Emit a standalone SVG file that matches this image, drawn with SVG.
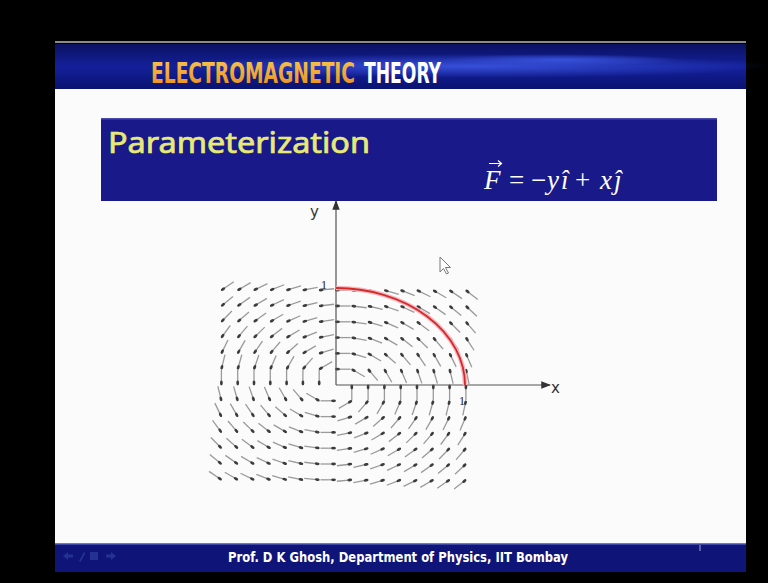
<svg xmlns="http://www.w3.org/2000/svg" width="768" height="583" viewBox="0 0 768 583">
<defs>
<linearGradient id="hdr" x1="0" y1="0" x2="0" y2="1">
<stop offset="0" stop-color="#0a1160"/><stop offset="0.5" stop-color="#14209a"/><stop offset="1" stop-color="#0a1270"/>
</linearGradient>
<radialGradient id="streak" cx="0.5" cy="0.5" r="0.5">
<stop offset="0" stop-color="#3a55e0" stop-opacity="0.9"/><stop offset="1" stop-color="#3a55e0" stop-opacity="0"/>
</radialGradient>
<linearGradient id="gold" x1="0" y1="0" x2="0" y2="1">
<stop offset="0" stop-color="#f8c850"/><stop offset="1" stop-color="#e88a1c"/>
</linearGradient>
<marker id="q" markerUnits="userSpaceOnUse" markerWidth="32" markerHeight="32" viewBox="-16 -16 32 32" refX="0" refY="0" orient="auto" overflow="visible">
<line x1="-15" y1="0" x2="0" y2="0" stroke="#9a9a9a" stroke-width="1.3"/>
<ellipse cx="-2" cy="0" rx="2.4" ry="1.4" fill="#3c3c3c"/>
</marker>
<marker id="ah" markerUnits="userSpaceOnUse" markerWidth="10" markerHeight="10" viewBox="0 -4 8 8" refX="7" refY="0" orient="auto">
<path d="M0,-3L8,0L0,3z" fill="#333"/>
</marker>
<style>
.ax{stroke:#555;stroke-width:1.2;fill:none}
.lbl{font-family:"DejaVu Sans","Liberation Sans",sans-serif;fill:#333}
.one{font-family:"Liberation Serif",serif;font-size:12px;fill:#222}
.q path{fill:none;stroke:none}
.eq{font-family:"Liberation Serif",serif;font-size:27px;fill:#fff}
.hd{font-family:"DejaVu Sans Condensed","Liberation Sans Narrow",sans-serif;font-weight:bold;font-size:20px}
</style>
</defs>
<rect width="768" height="583" fill="#000"/>
<rect x="55" y="41" width="691" height="2" fill="#8a8a8a"/>
<g id="header">
<rect x="55" y="44" width="691" height="45" fill="url(#hdr)"/>
<ellipse cx="470" cy="66" rx="300" ry="12" fill="url(#streak)"/>
<ellipse cx="560" cy="60" rx="120" ry="6" fill="url(#streak)"/>
<text class="hd" transform="translate(151,83) scale(1,1.4)" fill="url(#gold)" textLength="204" lengthAdjust="spacingAndGlyphs">ELECTROMAGNETIC</text>
<text class="hd" transform="translate(364,83) scale(1,1.4)" fill="#fff" textLength="77" lengthAdjust="spacingAndGlyphs">THEORY</text>
</g>
<rect x="55" y="89" width="691" height="455" fill="#fbfbfb"/>
<g id="titlebox">
<rect x="101" y="118" width="616" height="83" fill="#19198a"/>
<rect x="101" y="118" width="616" height="1.5" fill="#4a4ab0"/>
<text x="108" y="153" font-family="'Noto Sans','Open Sans',sans-serif" font-size="29" fill="#e8ea78" stroke="#e8ea78" stroke-width="0.7" textLength="262" lengthAdjust="spacingAndGlyphs">Parameterization</text>
<g id="equation" class="eq">
<text x="484" y="189" font-style="italic">F</text>
<path d="M489,163.5H501M498,160.5L501.5,163.5L498,166.5" fill="none" stroke="#fff" stroke-width="1.2"/>
<text x="509" y="189">=</text>
<text x="531" y="189">−</text>
<text x="547" y="189" font-style="italic">y</text>
<text x="561" y="189" font-style="italic">î</text>
<text x="575" y="189">+</text>
<text x="600" y="189" font-style="italic">x</text>
<text x="614" y="189" font-style="italic">ĵ</text>
</g>
</g>
<g id="field" class="q" marker-start="url(#q)">
<g transform="translate(0,290.2)"><path d="M221.4,0l-10.26,7"/><path d="M237.7,0l-10.26,6"/><path d="M254,0l-10.26,5"/><path d="M270.3,0l-10.26,4"/><path d="M286.6,0l-10.26,3"/><path d="M302.9,0l-10.26,2"/><path d="M319.2,0l-10.26,1"/><path d="M335.5,0l-10.26,0"/><path d="M351.8,0l-10.26,-1"/><path d="M368.1,0l-10.26,-2"/><path d="M384.4,0l-10.26,-3"/><path d="M400.7,0l-10.26,-4"/><path d="M417,0l-10.26,-5"/><path d="M433.3,0l-10.26,-6"/><path d="M449.6,0l-10.26,-7"/><path d="M465.9,0l-10.26,-8"/></g>
<g transform="translate(0,306)"><path d="M221.4,0l-8.55,7"/><path d="M237.7,0l-8.55,6"/><path d="M254,0l-8.55,5"/><path d="M270.3,0l-8.55,4"/><path d="M286.6,0l-8.55,3"/><path d="M302.9,0l-8.55,2"/><path d="M319.2,0l-8.55,1"/><path d="M335.5,0l-8.55,0"/><path d="M351.8,0l-8.55,-1"/><path d="M368.1,0l-8.55,-2"/><path d="M384.4,0l-8.55,-3"/><path d="M400.7,0l-8.55,-4"/><path d="M417,0l-8.55,-5"/><path d="M433.3,0l-8.55,-6"/><path d="M449.6,0l-8.55,-7"/><path d="M465.9,0l-8.55,-8"/></g>
<g transform="translate(0,321.8)"><path d="M221.4,0l-6.84,7"/><path d="M237.7,0l-6.84,6"/><path d="M254,0l-6.84,5"/><path d="M270.3,0l-6.84,4"/><path d="M286.6,0l-6.84,3"/><path d="M302.9,0l-6.84,2"/><path d="M319.2,0l-6.84,1"/><path d="M335.5,0l-6.84,0"/><path d="M351.8,0l-6.84,-1"/><path d="M368.1,0l-6.84,-2"/><path d="M384.4,0l-6.84,-3"/><path d="M400.7,0l-6.84,-4"/><path d="M417,0l-6.84,-5"/><path d="M433.3,0l-6.84,-6"/><path d="M449.6,0l-6.84,-7"/><path d="M465.9,0l-6.84,-8"/></g>
<g transform="translate(0,337.6)"><path d="M221.4,0l-5.13,7"/><path d="M237.7,0l-5.13,6"/><path d="M254,0l-5.13,5"/><path d="M270.3,0l-5.13,4"/><path d="M286.6,0l-5.13,3"/><path d="M302.9,0l-5.13,2"/><path d="M319.2,0l-5.13,1"/><path d="M335.5,0l-5.13,0"/><path d="M351.8,0l-5.13,-1"/><path d="M368.1,0l-5.13,-2"/><path d="M384.4,0l-5.13,-3"/><path d="M400.7,0l-5.13,-4"/><path d="M417,0l-5.13,-5"/><path d="M433.3,0l-5.13,-6"/><path d="M449.6,0l-5.13,-7"/><path d="M465.9,0l-5.13,-8"/></g>
<g transform="translate(0,353.4)"><path d="M221.4,0l-3.42,7"/><path d="M237.7,0l-3.42,6"/><path d="M254,0l-3.42,5"/><path d="M270.3,0l-3.42,4"/><path d="M286.6,0l-3.42,3"/><path d="M302.9,0l-3.42,2"/><path d="M319.2,0l-3.42,1"/><path d="M335.5,0l-3.42,0"/><path d="M351.8,0l-3.42,-1"/><path d="M368.1,0l-3.42,-2"/><path d="M384.4,0l-3.42,-3"/><path d="M400.7,0l-3.42,-4"/><path d="M417,0l-3.42,-5"/><path d="M433.3,0l-3.42,-6"/><path d="M449.6,0l-3.42,-7"/><path d="M465.9,0l-3.42,-8"/></g>
<g transform="translate(0,369.2)"><path d="M221.4,0l-1.71,7"/><path d="M237.7,0l-1.71,6"/><path d="M254,0l-1.71,5"/><path d="M270.3,0l-1.71,4"/><path d="M286.6,0l-1.71,3"/><path d="M302.9,0l-1.71,2"/><path d="M319.2,0l-1.71,1"/><path d="M335.5,0l-1.71,0"/><path d="M351.8,0l-1.71,-1"/><path d="M368.1,0l-1.71,-2"/><path d="M384.4,0l-1.71,-3"/><path d="M400.7,0l-1.71,-4"/><path d="M417,0l-1.71,-5"/><path d="M433.3,0l-1.71,-6"/><path d="M449.6,0l-1.71,-7"/><path d="M465.9,0l-1.71,-8"/></g>
<g transform="translate(0,385)"><path d="M221.4,0l0,7"/><path d="M237.7,0l0,6"/><path d="M254,0l0,5"/><path d="M270.3,0l0,4"/><path d="M286.6,0l0,3"/><path d="M302.9,0l0,2"/><path d="M319.2,0l0,1"/><path d="M351.8,0l0,-1"/><path d="M368.1,0l0,-2"/><path d="M384.4,0l0,-3"/><path d="M400.7,0l0,-4"/><path d="M417,0l0,-5"/><path d="M433.3,0l0,-6"/><path d="M449.6,0l0,-7"/><path d="M465.9,0l0,-8"/></g>
<g transform="translate(0,400.8)"><path d="M221.4,0l1.71,7"/><path d="M237.7,0l1.71,6"/><path d="M254,0l1.71,5"/><path d="M270.3,0l1.71,4"/><path d="M286.6,0l1.71,3"/><path d="M302.9,0l1.71,2"/><path d="M319.2,0l1.71,1"/><path d="M335.5,0l1.71,0"/><path d="M351.8,0l1.71,-1"/><path d="M368.1,0l1.71,-2"/><path d="M384.4,0l1.71,-3"/><path d="M400.7,0l1.71,-4"/><path d="M417,0l1.71,-5"/><path d="M433.3,0l1.71,-6"/><path d="M449.6,0l1.71,-7"/><path d="M465.9,0l1.71,-8"/></g>
<g transform="translate(0,416.6)"><path d="M221.4,0l3.42,7"/><path d="M237.7,0l3.42,6"/><path d="M254,0l3.42,5"/><path d="M270.3,0l3.42,4"/><path d="M286.6,0l3.42,3"/><path d="M302.9,0l3.42,2"/><path d="M319.2,0l3.42,1"/><path d="M335.5,0l3.42,0"/><path d="M351.8,0l3.42,-1"/><path d="M368.1,0l3.42,-2"/><path d="M384.4,0l3.42,-3"/><path d="M400.7,0l3.42,-4"/><path d="M417,0l3.42,-5"/><path d="M433.3,0l3.42,-6"/><path d="M449.6,0l3.42,-7"/><path d="M465.9,0l3.42,-8"/></g>
<g transform="translate(0,432.4)"><path d="M221.4,0l5.13,7"/><path d="M237.7,0l5.13,6"/><path d="M254,0l5.13,5"/><path d="M270.3,0l5.13,4"/><path d="M286.6,0l5.13,3"/><path d="M302.9,0l5.13,2"/><path d="M319.2,0l5.13,1"/><path d="M335.5,0l5.13,0"/><path d="M351.8,0l5.13,-1"/><path d="M368.1,0l5.13,-2"/><path d="M384.4,0l5.13,-3"/><path d="M400.7,0l5.13,-4"/><path d="M417,0l5.13,-5"/><path d="M433.3,0l5.13,-6"/><path d="M449.6,0l5.13,-7"/><path d="M465.9,0l5.13,-8"/></g>
<g transform="translate(0,448.2)"><path d="M221.4,0l6.84,7"/><path d="M237.7,0l6.84,6"/><path d="M254,0l6.84,5"/><path d="M270.3,0l6.84,4"/><path d="M286.6,0l6.84,3"/><path d="M302.9,0l6.84,2"/><path d="M319.2,0l6.84,1"/><path d="M335.5,0l6.84,0"/><path d="M351.8,0l6.84,-1"/><path d="M368.1,0l6.84,-2"/><path d="M384.4,0l6.84,-3"/><path d="M400.7,0l6.84,-4"/><path d="M417,0l6.84,-5"/><path d="M433.3,0l6.84,-6"/><path d="M449.6,0l6.84,-7"/><path d="M465.9,0l6.84,-8"/></g>
<g transform="translate(0,464)"><path d="M221.4,0l8.55,7"/><path d="M237.7,0l8.55,6"/><path d="M254,0l8.55,5"/><path d="M270.3,0l8.55,4"/><path d="M286.6,0l8.55,3"/><path d="M302.9,0l8.55,2"/><path d="M319.2,0l8.55,1"/><path d="M335.5,0l8.55,0"/><path d="M351.8,0l8.55,-1"/><path d="M368.1,0l8.55,-2"/><path d="M384.4,0l8.55,-3"/><path d="M400.7,0l8.55,-4"/><path d="M417,0l8.55,-5"/><path d="M433.3,0l8.55,-6"/><path d="M449.6,0l8.55,-7"/><path d="M465.9,0l8.55,-8"/></g>
<g transform="translate(0,479.8)"><path d="M221.4,0l10.26,7"/><path d="M237.7,0l10.26,6"/><path d="M254,0l10.26,5"/><path d="M270.3,0l10.26,4"/><path d="M286.6,0l10.26,3"/><path d="M302.9,0l10.26,2"/><path d="M319.2,0l10.26,1"/><path d="M335.5,0l10.26,0"/><path d="M351.8,0l10.26,-1"/><path d="M368.1,0l10.26,-2"/><path d="M384.4,0l10.26,-3"/><path d="M400.7,0l10.26,-4"/><path d="M417,0l10.26,-5"/><path d="M433.3,0l10.26,-6"/><path d="M449.6,0l10.26,-7"/><path d="M465.9,0l10.26,-8"/></g>
</g>
<g id="axes">
<path class="ax" d="M336,385V201" marker-end="url(#ah)"/>
<path class="ax" d="M336,385H550" marker-end="url(#ah)"/>
<text class="lbl" x="310" y="217" font-size="15">y</text>
<text class="lbl" x="551" y="393" font-size="15">x</text>
<text class="one" x="321" y="289">1</text>
<text class="one" x="459" y="405">1</text>
</g>
<g id="arc">
<path d="M336,288A129,97 0 0 1 465,385" fill="none" stroke="#f4b8c0" stroke-width="4.5"/>
<path d="M336,288A129,97 0 0 1 465,385" fill="none" stroke="#d42a2a" stroke-width="1.8"/>
</g>
<g id="cursor">
<path d="M440,257V272L443.5,268.5L446.5,274L448.5,273L445.5,267.5L450.5,267.5Z" fill="#fff" stroke="#777" stroke-width="1"/>
</g>
<g id="footer">
<rect x="55" y="544" width="691" height="28" fill="#0e1478"/>
<rect x="55" y="543" width="691" height="1.5" fill="#6a78d0"/>
<g fill="#2a3a9c" opacity="0.8">
<path d="M63,556l5,-4v2.5h5v3h-5v2.5z"/>
<path d="M79,561l5,-9l1.5,1l-5,9z"/>
<rect x="90" y="552" width="8" height="8"/>
<path d="M116,556l-5,-4v2.5h-5v3h5v2.5z"/>
</g>
<rect x="699" y="545" width="2" height="6" fill="#8890c8" opacity="0.6"/>
<text x="228" y="562" font-family="'Liberation Sans Narrow','DejaVu Sans Condensed',sans-serif" font-weight="bold" font-size="14" fill="#fff" textLength="340" lengthAdjust="spacingAndGlyphs">Prof. D K Ghosh, Department of Physics, IIT Bombay</text>
</g>
</svg>
